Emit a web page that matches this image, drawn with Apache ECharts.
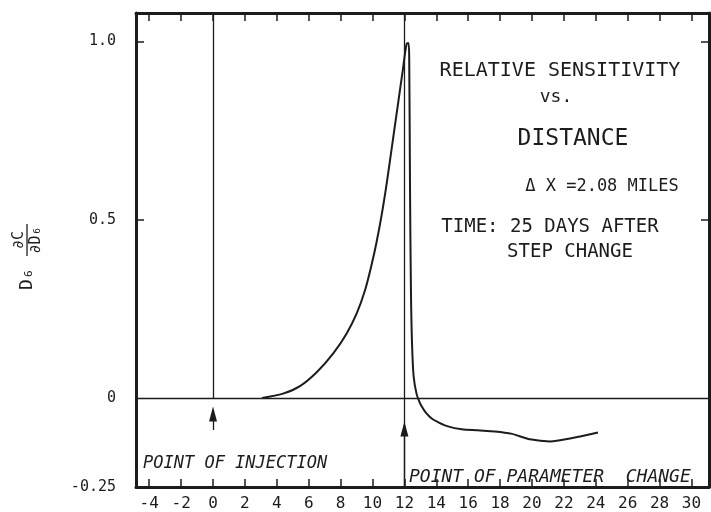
<!DOCTYPE html>
<html lang="en">
<head>
<meta charset="UTF-8">
<title>Relative sensitivity vs. distance</title>
<style>
  body { margin: 0; padding: 0; background: #fefefe; }
  #main { width: 711px; height: 512px; }
</style>
</head>
<body>
<div id="main"></div>
<script src="https://cdn.jsdelivr.net/npm/echarts@6/dist/echarts.min.js"></script>
<script>
// values
var distance = [3.07, 4.39, 5.45, 6.5, 7.54, 8.38, 9.01, 9.53, 9.95, 10.26, 10.58, 10.9, 11.25, 11.6, 11.9, 12.14, 12.25,
  12.3, 12.35, 12.41, 12.48, 12.58, 12.76, 12.95, 13.1, 13.32, 13.71, 14.11, 14.73, 15.59, 16.61, 17.68, 18.75, 19.87, 21.13, 22.38, 24.14];
var sensitivity = [0, 0.012, 0.033, 0.072, 0.125, 0.181, 0.237, 0.302, 0.375, 0.438, 0.515, 0.605, 0.715, 0.825, 0.92, 0.994, 0.996,
  0.96, 0.6, 0.3, 0.15, 0.06, 0.012, -0.012, -0.025, -0.04, -0.058, -0.068, -0.08, -0.088, -0.091, -0.094, -0.101, -0.116, -0.122, -0.114, -0.097];

var xTicks = [-4, -2, 0, 2, 4, 6, 8, 10, 12, 14, 16, 18, 20, 22, 24, 26, 28, 30];
var yLabelVals = [-0.25, 0, 0.5, 1.0];
var yLabelText = ['-0.25', '0', '0.5', '1.0'];
var yTickVals = [0.5, 1.0];

var injectionAt = 0;
var changeAt = 12;

var ink = '#1c1c1c';
var mono = 'DejaVu Sans Mono';

var chart = echarts.init(document.getElementById('main'));

var xBase = {
  type: 'value',
  min: -4.83,
  max: 31.1,
  splitLine: { show: false },
  axisLine: { onZero: false, lineStyle: { color: ink, width: 3 } },
  axisTick: { inside: true, length: 8, lineStyle: { color: ink, width: 1.5 }, customValues: xTicks }
};
var yBase = {
  type: 'value',
  min: -0.25,
  max: 1.08,
  splitLine: { show: false },
  axisLine: { show: true, onZero: false, lineStyle: { color: ink, width: 3 } },
  axisTick: { show: true, inside: true, length: 8, lineStyle: { color: ink, width: 1.5 }, customValues: yTickVals }
};

var curve = distance.map(function (d, i) { return [d, sensitivity[i]]; });

function textEl(x, y, text, font, align) {
  return {
    type: 'text',
    style: {
      x: x, y: y, text: text, font: font, fill: ink,
      align: align, textAlign: align, verticalAlign: 'alphabetic', textVerticalAlign: 'alphabetic'
    }
  };
}

var option = {
  backgroundColor: '#fefefe',
  animation: false,
  grid: { left: 136, right: 2, top: 13, bottom: 24 },
  xAxis: [
    Object.assign({}, xBase, {
      position: 'bottom',
      axisLabel: {
        customValues: xTicks, color: ink, fontFamily: mono, fontSize: 16, margin: 9,
        formatter: function (v) { return String(v); }
      }
    }),
    Object.assign({}, xBase, { position: 'top', axisLabel: { show: false } })
  ],
  yAxis: [
    Object.assign({}, yBase, {
      position: 'left',
      axisLabel: {
        customValues: yLabelVals, color: ink, fontFamily: mono, fontSize: 15, margin: 20,
        formatter: function (v) {
          var i = yLabelVals.indexOf(v);
          return i >= 0 ? yLabelText[i] : '';
        }
      }
    }),
    Object.assign({}, yBase, { position: 'right', axisLabel: { show: false } })
  ],
  series: [
    {
      type: 'line',
      data: curve,
      smooth: 0.3,
      showSymbol: false,
      lineStyle: { color: ink, width: 2 },
      markLine: {
        silent: true,
        symbol: 'none',
        label: { show: false },
        lineStyle: { color: ink, width: 1.3, type: 'solid' },
        data: [
          { yAxis: 0 },
          { xAxis: changeAt },
          [{ coord: [injectionAt, 1.08] }, { coord: [injectionAt, 0] }],
          [{ coord: [injectionAt, -0.09] }, { coord: [injectionAt, -0.045], symbol: 'triangle', symbolSize: [8, 15] }],
          [{ coord: [changeAt, -0.25] }, { coord: [changeAt, -0.087], symbol: 'triangle', symbolSize: [8, 15] }]
        ]
      }
    }
  ],
  graphic: [
    textEl(560, 61, 'RELATIVE SENSITIVITY', '20px ' + mono, 'center'),
    textEl(556, 88, 'vs.', '18px ' + mono, 'center'),
    textEl(573, 128, 'DISTANCE', '23px ' + mono, 'center'),
    textEl(602, 178, 'Δ X =2.08 MILES', '17px ' + mono, 'center'),
    textEl(550, 218, 'TIME: 25 DAYS AFTER', '19px ' + mono, 'center'),
    textEl(570, 243, 'STEP CHANGE', '19px ' + mono, 'center'),
    textEl(143, 455, 'POINT OF INJECTION', 'italic 17px ' + mono, 'left'),
    textEl(409, 468, 'POINT OF PARAMETER  CHANGE', 'italic 18px ' + mono, 'left'),
    {
      // rotated y axis title: D6 dC/dD6
      type: 'group',
      x: 27,
      y: 292,
      rotation: Math.PI / 2,
      children: [
        { type: 'text', style: { x: 2, y: 0, text: 'D₆', font: '18px ' + mono, fill: ink, align: 'left', textAlign: 'left', verticalAlign: 'middle', textVerticalAlign: 'middle' } },
        { type: 'text', style: { x: 52, y: -8, text: '∂C', font: '15px ' + mono, fill: ink, align: 'center', textAlign: 'center', verticalAlign: 'middle', textVerticalAlign: 'middle' } },
        { type: 'line', shape: { x1: 36, y1: 0, x2: 68, y2: 0 }, style: { stroke: ink, lineWidth: 1.3 } },
        { type: 'text', style: { x: 52, y: 9, text: '∂D₆', font: '15px ' + mono, fill: ink, align: 'center', textAlign: 'center', verticalAlign: 'middle', textVerticalAlign: 'middle' } }
      ]
    }
  ]
};

chart.setOption(option);
</script>
</body>
</html>
